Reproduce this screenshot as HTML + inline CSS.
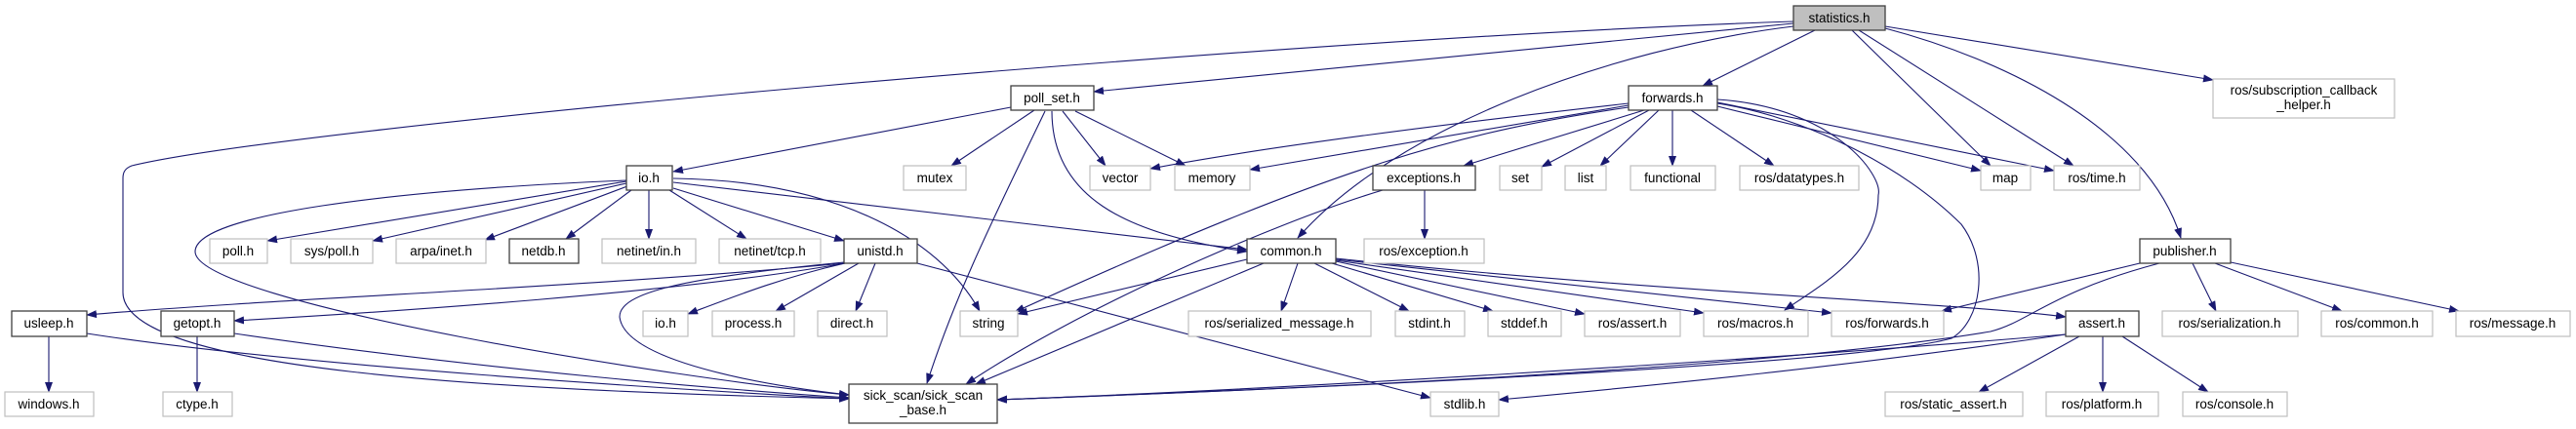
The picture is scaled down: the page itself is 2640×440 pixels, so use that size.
<!DOCTYPE html>
<html><head><meta charset="utf-8"><style>
html,body{margin:0;padding:0;background:#fff;}
svg{display:block;}
text{font-family:"Liberation Sans",sans-serif;font-size:13.5px;fill:#000;text-anchor:middle;}
.e{fill:none;stroke:#191970;stroke-width:1.1;marker-end:url(#a);}
.b{fill:#fff;stroke:#404040;stroke-width:1.3;}
.g{fill:#fff;stroke:#bfbfbf;stroke-width:1.2;}
</style></head><body>
<svg width="2640" height="440" viewBox="0 0 2640 440" xmlns="http://www.w3.org/2000/svg">
<defs><marker id="a" markerWidth="11" markerHeight="8" refX="10" refY="4" orient="auto" markerUnits="userSpaceOnUse"><path d="M0,0 L11,4 L0,8 z" fill="#191970"/></marker></defs>
<g>
<path class="e" d="M1838,24 L1121,94"/>
<path class="e" d="M1838,22 C1300,40 300,130 135,170 C127,173 126,178 126,183 L126,300 C126,380 500,400 870,409"/>
<path class="e" d="M1838,27 C1650,50 1430,130 1330,244"/>
<path class="e" d="M1860,31 L1745,88"/>
<path class="e" d="M1898,31 L2040,170"/>
<path class="e" d="M1905,31 L2125,170"/>
<path class="e" d="M1932,29 C2050,60 2200,130 2235,244"/>
<path class="e" d="M1932,27 L2268,82"/>
<path class="e" d="M1036,110 L690,176"/>
<path class="e" d="M1060,113 L975,170"/>
<path class="e" d="M1071,114 C1020,220 980,300 950,393"/>
<path class="e" d="M1078,114 C1078,200 1150,240 1278,258"/>
<path class="e" d="M1089,114 L1133,170"/>
<path class="e" d="M1102,114 L1215,170"/>
<path class="e" d="M642,186 L274,247"/>
<path class="e" d="M642,188 L382,247"/>
<path class="e" d="M643,191 L497,246"/>
<path class="e" d="M647,195 L580,245"/>
<path class="e" d="M665,195 L665,245"/>
<path class="e" d="M686,195 L765,245"/>
<path class="e" d="M690,193 L865,247"/>
<path class="e" d="M690,183 C850,185 960,240 1004,319"/>
<path class="e" d="M690,187 L1278,256"/>
<path class="e" d="M642,185 C400,195 200,220 200,258 C200,310 700,390 870,405"/>
<path class="e" d="M865,270 C600,295 300,305 89,323"/>
<path class="e" d="M866,270 C700,300 400,320 240,329"/>
<path class="e" d="M866,270 C800,285 750,305 705,322"/>
<path class="e" d="M880,270 L795,319"/>
<path class="e" d="M897,270 L877,319"/>
<path class="e" d="M865,269 C700,285 635,300 635,325 C640,370 780,395 870,405"/>
<path class="e" d="M940,270 L1466,408"/>
<path class="e" d="M50,345 L50,402"/>
<path class="e" d="M89,342 C300,375 700,400 870,409"/>
<path class="e" d="M202,345 L202,402"/>
<path class="e" d="M240,342 C500,380 750,400 870,408"/>
<path class="e" d="M1669,106 C1500,125 1300,150 1179,173"/>
<path class="e" d="M1669,108 L1281,174"/>
<path class="e" d="M1669,110 C1500,135 1380,165 1040,320"/>
<path class="e" d="M1760,106 C1850,120 1950,170 2010,230 C2040,270 2030,330 2000,347 C1900,375 1300,400 1022,410"/>
<path class="e" d="M1685,113 L1500,170"/>
<path class="e" d="M1690,113 L1580,171"/>
<path class="e" d="M1700,113 L1640,170"/>
<path class="e" d="M1714,113 L1714,170"/>
<path class="e" d="M1733,113 L1818,170"/>
<path class="e" d="M1760,102 C1880,110 1930,180 1925,200 C1925,260 1870,290 1829,318"/>
<path class="e" d="M1760,109 L2030,175"/>
<path class="e" d="M1760,105 L2105,175"/>
<path class="e" d="M1460,195 L1460,245"/>
<path class="e" d="M1417,195 C1300,230 1100,320 990,394"/>
<path class="e" d="M1330,270 L1313,319"/>
<path class="e" d="M1278,266 L1043,322"/>
<path class="e" d="M1295,270 L1000,394"/>
<path class="e" d="M1347,270 L1444,319"/>
<path class="e" d="M1365,270 L1530,319"/>
<path class="e" d="M1369,268 L1624,322"/>
<path class="e" d="M1369,267 L1746,321"/>
<path class="e" d="M1369,266 L1877,321"/>
<path class="e" d="M1369,265 C1700,300 2000,310 2117,325"/>
<path class="e" d="M2193,270 L1990,319"/>
<path class="e" d="M2213,270 C2100,300 2080,330 2040,340 C1800,380 1300,400 1022,410"/>
<path class="e" d="M2247,270 L2271,319"/>
<path class="e" d="M2270,270 L2400,319"/>
<path class="e" d="M2286,269 L2520,319"/>
<path class="e" d="M2117,343 C1800,370 1300,400 1022,410"/>
<path class="e" d="M2117,343 C1900,375 1700,395 1536,410"/>
<path class="e" d="M2131,345 L2028,402"/>
<path class="e" d="M2155,345 L2155,402"/>
<path class="e" d="M2175,345 L2263,402"/>
</g>
<g>
<rect x="1838" y="6" width="94" height="25" fill="#bfbfbf" stroke="#404040" stroke-width="1.3"/><text x="1885" y="23">statistics.h</text>
<rect class="b" x="1036" y="88" width="85" height="25"/><text x="1078" y="105">poll_set.h</text>
<rect class="b" x="1669" y="88" width="91" height="25"/><text x="1714" y="105">forwards.h</text>
<rect class="g" x="2268" y="81" width="186" height="40"/><text x="2361" y="97">ros/subscription_callback</text><text x="2361" y="112">_helper.h</text>
<rect class="b" x="642" y="170" width="47" height="25"/><text x="665" y="187">io.h</text>
<rect class="g" x="926" y="170" width="64" height="25"/><text x="958" y="187">mutex</text>
<rect class="g" x="1117" y="170" width="62" height="25"/><text x="1148" y="187">vector</text>
<rect class="g" x="1204" y="170" width="77" height="25"/><text x="1242" y="187">memory</text>
<rect class="b" x="1407" y="170" width="105" height="25"/><text x="1459" y="187">exceptions.h</text>
<rect class="g" x="1537" y="170" width="43" height="25"/><text x="1558" y="187">set</text>
<rect class="g" x="1604" y="170" width="42" height="25"/><text x="1625" y="187">list</text>
<rect class="g" x="1671" y="170" width="87" height="25"/><text x="1714" y="187">functional</text>
<rect class="g" x="1783" y="170" width="122" height="25"/><text x="1844" y="187">ros/datatypes.h</text>
<rect class="g" x="2030" y="170" width="51" height="25"/><text x="2055" y="187">map</text>
<rect class="g" x="2105" y="170" width="88" height="25"/><text x="2149" y="187">ros/time.h</text>
<rect class="g" x="215" y="245" width="59" height="25"/><text x="244" y="262">poll.h</text>
<rect class="g" x="298" y="245" width="84" height="25"/><text x="340" y="262">sys/poll.h</text>
<rect class="g" x="406" y="245" width="92" height="25"/><text x="452" y="262">arpa/inet.h</text>
<rect class="b" x="522" y="245" width="71" height="25"/><text x="557" y="262">netdb.h</text>
<rect class="g" x="617" y="245" width="96" height="25"/><text x="665" y="262">netinet/in.h</text>
<rect class="g" x="737" y="245" width="104" height="25"/><text x="789" y="262">netinet/tcp.h</text>
<rect class="b" x="865" y="245" width="75" height="25"/><text x="902" y="262">unistd.h</text>
<rect class="b" x="1278" y="245" width="91" height="25"/><text x="1323" y="262">common.h</text>
<rect class="g" x="1398" y="245" width="123" height="25"/><text x="1459" y="262">ros/exception.h</text>
<rect class="b" x="2193" y="245" width="93" height="25"/><text x="2239" y="262">publisher.h</text>
<rect class="b" x="12" y="319" width="77" height="26"/><text x="50" y="336">usleep.h</text>
<rect class="b" x="165" y="319" width="75" height="26"/><text x="202" y="336">getopt.h</text>
<rect class="g" x="659" y="319" width="46" height="26"/><text x="682" y="336">io.h</text>
<rect class="g" x="730" y="319" width="84" height="26"/><text x="772" y="336">process.h</text>
<rect class="g" x="838" y="319" width="71" height="26"/><text x="873" y="336">direct.h</text>
<rect class="g" x="984" y="319" width="59" height="26"/><text x="1013" y="336">string</text>
<rect class="g" x="1218" y="319" width="187" height="26"/><text x="1311" y="336">ros/serialized_message.h</text>
<rect class="g" x="1430" y="319" width="71" height="26"/><text x="1465" y="336">stdint.h</text>
<rect class="g" x="1525" y="319" width="75" height="26"/><text x="1562" y="336">stddef.h</text>
<rect class="g" x="1624" y="319" width="98" height="26"/><text x="1673" y="336">ros/assert.h</text>
<rect class="g" x="1746" y="319" width="107" height="26"/><text x="1799" y="336">ros/macros.h</text>
<rect class="g" x="1877" y="319" width="115" height="26"/><text x="1934" y="336">ros/forwards.h</text>
<rect class="b" x="2117" y="319" width="75" height="26"/><text x="2154" y="336">assert.h</text>
<rect class="g" x="2216" y="319" width="139" height="26"/><text x="2285" y="336">ros/serialization.h</text>
<rect class="g" x="2379" y="319" width="114" height="26"/><text x="2436" y="336">ros/common.h</text>
<rect class="g" x="2517" y="319" width="117" height="26"/><text x="2575" y="336">ros/message.h</text>
<rect class="g" x="5" y="402" width="91" height="25"/><text x="50" y="419">windows.h</text>
<rect class="g" x="167" y="402" width="71" height="25"/><text x="202" y="419">ctype.h</text>
<rect class="g" x="1466" y="402" width="70" height="25"/><text x="1501" y="419">stdlib.h</text>
<rect class="g" x="1932" y="402" width="141" height="25"/><text x="2002" y="419">ros/static_assert.h</text>
<rect class="g" x="2097" y="402" width="115" height="25"/><text x="2154" y="419">ros/platform.h</text>
<rect class="g" x="2237" y="402" width="107" height="25"/><text x="2290" y="419">ros/console.h</text>
<rect class="b" x="870" y="394" width="152" height="40"/><text x="946" y="410">sick_scan/sick_scan</text><text x="946" y="425">_base.h</text>
</g>
</svg>
</body></html>
